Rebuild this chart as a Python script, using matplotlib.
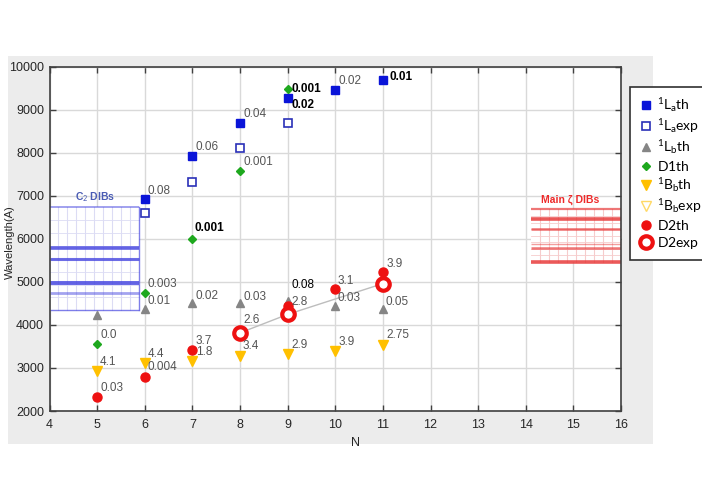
import matplotlib
matplotlib.use("Agg")
import matplotlib.pyplot as plt
from matplotlib.patches import Rectangle

plt.rcParams['font.family'] = ['Liberation Sans', 'DejaVu Sans']
plt.rcParams['mathtext.fontset'] = 'custom'
plt.rcParams['mathtext.rm'] = 'Lato'
plt.rcParams['mathtext.it'] = 'Lato:italic'
plt.rcParams['mathtext.bf'] = 'Lato:bold'

# ---------------- data ----------------
la_th_n = [6, 7, 8, 9, 10, 11]
la_th_y = [6915, 7915, 8700, 9280, 9465, 9680]
la_th_lbl = ['0.08', '0.06', '0.04', '0.02', '0.02', '0.01']

la_exp_n = [6, 7, 8, 9]
la_exp_y = [6590, 7320, 8115, 8695]

lb_th_n = [5, 6, 7, 8, 9, 10, 11]
lb_th_y = [4230, 4365, 4515, 4520, 4555, 4440, 4380]
lb_th_lbl = ['', '0.01', '0.02', '0.03', '0.08', '0.03', '0.05']

d1_th_n = [5, 6, 7, 8, 9]
d1_th_y = [3550, 4735, 5990, 7570, 9480]
d1_th_lbl = ['0.0', '0.003', '0.001', '0.001', '0.001']

bb_th_n = [5, 6, 7, 8, 9, 10, 11]
bb_th_y = [2930, 3125, 3160, 3280, 3320, 3395, 3535]
bb_th_lbl = ['4.1', '4.4', '1.8', '3.4', '2.9', '3.9', '2.75']

bb_exp_n = []
bb_exp_y = []

d2_th_n = [5, 6, 7, 9, 10, 11]
d2_th_y = [2335, 2795, 3420, 4440, 4825, 5235]
d2_th_lbl = ['0.03', '0.004', '3.7', '', '3.1', '3.9']

d2_exp_n = [8, 9, 11]
d2_exp_y = [3815, 4245, 4960]
d2_exp_lbl = ['2.6', '2.8', '']

c2_dib_box = (4.0, 5.87, 4340, 6735)
c2_dibs = [5777, 5522, 4965, 4750]
zeta_dib_box = (14.1, 16.0, 5470, 6682)
zeta_dibs = [6682, 6450, 6234, 5870, 5794, 5470]

xticks = list(range(4, 17))
yticks = list(range(2000, 10001, 1000))

# ---------------- figure ----------------
W, H = 702, 496
fig = plt.figure(figsize=(W / 100, H / 100), dpi=100)
fig.patch.set_facecolor('white')

bg = fig.add_axes([8 / W, 1 - 444 / H, (653 - 8) / W, (444 - 56) / H], zorder=-5)
bg.set_facecolor('#ececec')
bg.set_xticks([])
bg.set_yticks([])
for s in bg.spines.values():
    s.set_visible(False)

L, R, T, B = 49.5, 621, 66.7, 411
ax = fig.add_axes([L / W, 1 - B / H, (R - L) / W, (B - T) / H], zorder=1)
ax.set_facecolor('white')
ax.set_xlim(4, 16)
ax.set_ylim(2000, 10000)
ax.set_xticks(xticks)
ax.set_yticks(yticks)
ax.grid(True, color='#d9d9d9', lw=1.0, zorder=0)
ax.set_axisbelow(True)
ax.tick_params(direction='in', top=True, right=True, length=4, width=1,
               color='#404040', labelsize=9, labelcolor='#262626', pad=4)
ax.tick_params(axis='x', pad=6)
for s in ax.spines.values():
    s.set_color('#404040')
    s.set_linewidth(1.2)

ax.set_xlabel('N', fontsize=9, color='#262626')
ax.xaxis.set_label_coords(0.535, -0.075)
ax.set_ylabel('Wavelength(A)', fontsize=8, color='#262626')
ax.yaxis.set_label_coords(-0.06, 0.49)

# ---------------- DIB boxes ----------------
def dib_box(box, lines, edge, grid, widths):
    x0, x1, y0, y1 = box
    ax.add_patch(Rectangle((x0, y0), x1 - x0, y1 - y0, facecolor='white',
                           edgecolor='none', zorder=2))
    nx = 9
    for i in range(1, nx + 1):
        xx = x0 + (x1 - x0) * i / (nx + 1)
        ax.plot([xx, xx], [y0, y1], color=grid, lw=0.8, zorder=2.1)
    ny = 8
    for i in range(1, ny):
        yy = y0 + (y1 - y0) * i / ny
        ax.plot([x0, x1], [yy, yy], color=grid, lw=0.6, zorder=2.1)
    ax.plot([x1, x1], [y0, y1], color=edge, lw=1.0, alpha=0.7, zorder=2.2)
    for yy, (w, a) in zip(lines, widths):
        ax.plot([x0, x1], [yy, yy], color=edge, lw=w, alpha=a,
                solid_capstyle='butt', zorder=2.3)

dib_box(c2_dib_box, c2_dibs + [c2_dib_box[2], c2_dib_box[3]], '#4848e0', '#dcdcf4',
        [(2.6, 0.85), (2.2, 0.8), (2.8, 0.85), (2.0, 0.5), (1.0, 0.7), (1.2, 0.6)])
dib_box(zeta_dib_box, zeta_dibs, '#e83c3c', '#f6cccc',
        [(1.6, 0.7), (2.6, 0.85), (1.8, 0.75), (1.0, 0.5), (1.8, 0.7), (2.6, 0.85)])

ax.text(4.95, 6800, r'C$_2$ DIBs', color='#4a5cb4', fontsize=7.5, fontweight='bold',
        ha='center', va='bottom', zorder=3)
ax.text(14.93, 6910, 'Main ζ DIBs', color='#ee2a2a', fontsize=7.5, fontweight='bold',
        ha='center', va='center', zorder=3)

# ---------------- series ----------------
ax.plot(d2_exp_n, d2_exp_y, '-', color='#bdbdbd', lw=1.0, zorder=3)

h_la_th, = ax.plot(la_th_n, la_th_y, 's', ms=5.5, color='#0a14d8', ls='none',
                   label=r'$^{1}\mathrm{L}_{\mathrm{a}}\mathrm{th}$', zorder=5)
h_la_exp, = ax.plot(la_exp_n, la_exp_y, 's', ms=5.5, mfc='white', mec='#2a30b8', mew=1.2,
                    ls='none', label=r'$^{1}\mathrm{L}_{\mathrm{a}}\mathrm{exp}$', zorder=5)
h_lb_th, = ax.plot(lb_th_n, lb_th_y, '^', ms=6, color='#858585', ls='none',
                   label=r'$^{1}\mathrm{L}_{\mathrm{b}}\mathrm{th}$', zorder=4)
h_d1, = ax.plot(d1_th_n, d1_th_y, 'D', ms=4.5, color='#1ea81e', ls='none',
                label=r'$\mathrm{D1th}$', zorder=6)
h_bb_th, = ax.plot(bb_th_n, bb_th_y, 'v', ms=7, color='#ffc000', ls='none',
                   label=r'$^{1}\mathrm{B}_{\mathrm{b}}\mathrm{th}$', zorder=4)
h_bb_exp, = ax.plot(bb_exp_n, bb_exp_y, 'v', ms=7, mfc='white', mec='#ffd966', mew=1.0,
                    ls='none', label=r'$^{1}\mathrm{B}_{\mathrm{b}}\mathrm{exp}$', zorder=4)
h_d2_th, = ax.plot(d2_th_n, d2_th_y, 'o', ms=6.5, color='#ee1111', ls='none',
                   label=r'$\mathrm{D2th}$', zorder=5)
h_d2_exp, = ax.plot(d2_exp_n, d2_exp_y, 'o', ms=9, mfc='white', mec='#ee1111', mew=3,
                    ls='none', label=r'$\mathrm{D2exp}$', zorder=5)

# ---------------- annotations (offsets in pixels) ----------------
gray = dict(color='#555555', fontsize=8.5)
boldk = dict(color='black', fontsize=8.5, fontweight='bold')
plain_k = dict(color='black', fontsize=8.5)

def annotate(ns, ys, labels, offsets, styles):
    for n, y, t, off, st in zip(ns, ys, labels, offsets, styles):
        if t:
            ax.annotate(t, (n, y), xytext=off, textcoords='offset pixels',
                        ha='left', va='center', zorder=7, **st)

annotate(la_th_n, la_th_y, la_th_lbl,
         [(3, 8), (3, 9), (3, 9), (4, -7), (3, 9), (7, 3)],
         [gray, gray, gray, boldk, gray, boldk])
annotate(lb_th_n, lb_th_y, lb_th_lbl,
         [(0, 0), (3, 8), (3, 7), (3, 6), (4, 16), (2, 8), (3, 7)],
         [gray, gray, gray, gray, plain_k, gray, gray])
annotate(d1_th_n, d1_th_y, d1_th_lbl,
         [(3, 9), (3, 9), (2, 11), (3, 9), (4, 0)],
         [gray, gray, boldk, gray, boldk])
annotate(bb_th_n, bb_th_y, bb_th_lbl,
         [(3, 9), (3, 9), (4, 9), (3, 10), (4, 9), (3, 9), (4, 10)],
         [gray] * 7)
annotate(d2_th_n, d2_th_y, d2_th_lbl,
         [(3, 9), (3, 10), (3, 9), (0, 0), (2, 8), (4, 8)],
         [gray] * 6)
annotate(d2_exp_n, d2_exp_y, d2_exp_lbl,
         [(3, 13), (4, 12), (0, 0)],
         [gray] * 3)

# ---------------- legend ----------------
leg = fig.legend(handles=[h_la_th, h_la_exp, h_lb_th, h_d1, h_bb_th, h_bb_exp, h_d2_th, h_d2_exp],
                 loc='upper left', bbox_to_anchor=(630 / W, 1 - 86.7 / H),
                 bbox_transform=fig.transFigure, borderaxespad=0,
                 prop={'family': 'Lato', 'size': 10}, labelspacing=0.22,
                 handlelength=1.0, handletextpad=0.3, borderpad=0.65,
                 fancybox=False, framealpha=1, edgecolor='#303030')
leg.get_frame().set_linewidth(1.2)
leg.set_zorder(10)

fig.savefig('out.png', dpi=100)
